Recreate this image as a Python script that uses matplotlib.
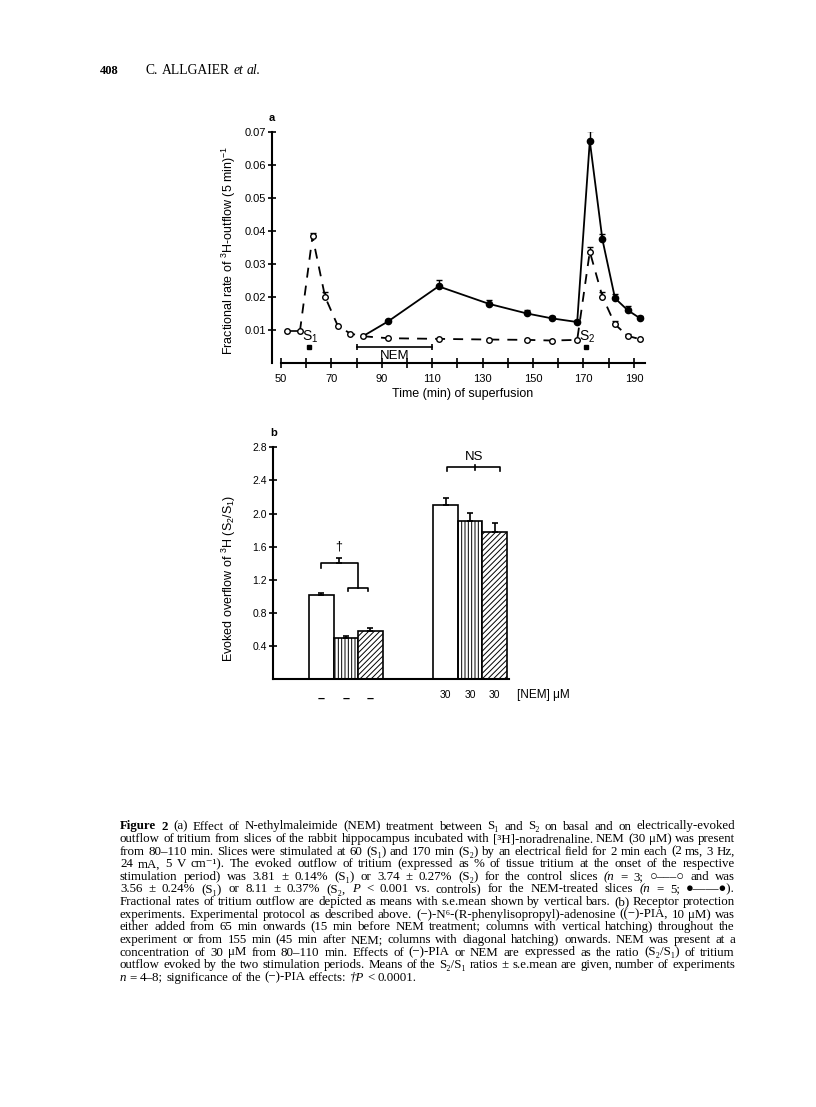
import numpy as np
import matplotlib
matplotlib.use("Agg")
import matplotlib.pyplot as plt

plt.rcParams['font.family'] = ['Liberation Sans', 'DejaVu Sans']
plt.rcParams['mathtext.default'] = 'regular'
plt.rcParams['hatch.linewidth'] = 0.7

# panel a: fractional rate of 3H outflow per 5 min
ctrl_time = [52.5, 57.5, 62.5, 67.5, 72.5, 77.5, 82.5, 92.5, 112.5, 132.5,
             147.5, 157.5, 167.5, 172.5, 177.5, 182.5, 187.5, 192.5]
ctrl_rate = [0.0096, 0.0096, 0.0383, 0.0200, 0.0113, 0.0089, 0.0081, 0.0075, 0.0073, 0.0071,
             0.0070, 0.0068, 0.0070, 0.0337, 0.0201, 0.0117, 0.0082, 0.0072]
ctrl_sem = [0, 0, 0.0010, 0.0014, 0, 0, 0, 0, 0, 0,
            0, 0, 0, 0.0015, 0.0013, 0.0011, 0.0007, 0]

nem_time = [82.5, 92.5, 112.5, 132.5, 147.5, 157.5, 167.5, 172.5, 177.5, 182.5, 187.5, 192.5]
nem_rate = [0.0081, 0.0126, 0.0232, 0.0179, 0.0150, 0.0135, 0.0124, 0.0672, 0.0374, 0.0196, 0.0160, 0.0135]
nem_sem = [0, 0.0005, 0.0018, 0.0012, 0.0010, 0.0007, 0.0005, 0.0030, 0.0017, 0.0013, 0.0013, 0.0007]

stim_time = [61, 171]
stim_names = ['$S_1$', '$S_2$']
nem_period = [80, 110]

# panel b: S2/S1 ratios
bar_labels = ['–', '–', '–', '30', '30', '30']
bar_ratio = [1.02, 0.50, 0.58, 2.10, 1.91, 1.78]
bar_sem = [0.025, 0.025, 0.033, 0.09, 0.10, 0.11]
bar_hatch = ['', '|||||', '//////', '', '|||||', '//////']

caption = [
    "*Figure *2  (a) Effect of N-ethylmaleimide (NEM) treatment between S₁ and S₂ on basal and on electrically-evoked",
    "outflow of tritium from slices of the rabbit hippocampus incubated with [³H]-noradrenaline. NEM (30 μM) was present",
    "from 80–110 min. Slices were stimulated at 60 (S₁) and 170 min (S₂) by an electrical field for 2 min each (2 ms, 3 Hz,",
    "24 mA, 5 V cm⁻¹). The evoked outflow of tritium (expressed as % of tissue tritium at the onset of the respective",
    "stimulation period) was 3.81 ± 0.14% (S₁) or 3.74 ± 0.27% (S₂) for the control slices ~(n = 3; ○–––○ and was",
    "3.56 ± 0.24% (S₁) or 8.11 ± 0.37% (S₂, ~P < 0.001 vs. controls) for the NEM-treated slices ~(n = 5; ●——●).",
    "Fractional rates of tritium outflow are depicted as means with s.e.mean shown by vertical bars. (b) Receptor protection",
    "experiments. Experimental protocol as described above. (−)-N⁶-(R-phenylisopropyl)-adenosine ((−)-PIA, 10 μM) was",
    "either added from 65 min onwards (15 min before NEM treatment; columns with vertical hatching) throughout the",
    "experiment or from 155 min (45 min after NEM; columns with diagonal hatching) onwards. NEM was present at a",
    "concentration of 30 μM from 80–110 min. Effects of (−)-PIA or NEM are expressed as the ratio (S₂/S₁) of tritium",
    "outflow evoked by the two stimulation periods. Means of the S₂/S₁ ratios ± s.e.mean are given, number of experiments",
    "~n = 4–8; significance of the (−)-PIA effects: ~†P < 0.0001.",
]

W, H = 816, 1107
fig = plt.figure(figsize=(W / 100, H / 100), dpi=100)
renderer = fig.canvas.get_renderer()
serif = ['Liberation Serif', 'DejaVu Serif']


def word_style(w):
    kw = dict(family=serif)
    if w.startswith('*'):
        w = w[1:]
        kw['weight'] = 'bold'
    elif w.startswith('~'):
        w = w[1:]
        kw['style'] = 'italic'
    return w, kw


def text_width(s, size, **kw):
    t = fig.text(0, 0, s, fontsize=size, **kw)
    w = t.get_window_extent(renderer=renderer).width
    t.remove()
    return w


def measure(line, size):
    words = [word_style(w) for w in line.split(' ') if w]
    widths = [text_width(w, size, **kw) for w, kw in words]
    space = text_width('a a', size, family=serif) - text_width('aa', size, family=serif)
    return words, widths, space


def put_line(line, x0, x1, y, size, justify=True):
    words, widths, space = measure(line, size)
    if justify and len(words) > 1:
        gap = (x1 - x0 - sum(widths)) / (len(words) - 1)
    else:
        gap = space
    x = x0
    for (w, kw), wd in zip(words, widths):
        fig.text(x / W, 1 - y / H, w, fontsize=size, va='baseline', ha='left', **kw)
        x += wd + gap


# header
fig.text(100 / W, 1 - 74 / H, '408', fontsize=9, weight='bold', family=serif, va='baseline')
put_line('C. ALLGAIER ~et ~al.', 146, 0, 74, 9.8, justify=False)

# ---- panel a ----
axa = fig.add_axes([272 / W, 1 - 363 / H, 373 / W, 231.3 / H])
axa.set_xlim(46.43, 194.4)
axa.set_ylim(0, 0.07)
for s in ['top', 'right']:
    axa.spines[s].set_visible(False)
axa.spines['left'].set_linewidth(1.5)
axa.spines['bottom'].set_linewidth(1.5)
axa.spines['bottom'].set_bounds(50, 194.4)
axa.set_xticks(np.arange(50, 191, 10))
axa.set_xticklabels([str(v) if (v - 50) % 20 == 0 else '' for v in range(50, 191, 10)])
axa.set_yticks(np.arange(0.01, 0.071, 0.01))
axa.set_yticklabels(['%.2f' % v for v in np.arange(0.01, 0.071, 0.01)])
axa.tick_params(axis='x', direction='inout', length=7, width=1.2, pad=4.5, labelsize=8)
axa.tick_params(axis='y', direction='inout', length=6, width=1.2, pad=1, labelsize=8)

axa.plot(ctrl_time[:2], ctrl_rate[:2], '-', color='k', lw=1.2)
axa.plot(ctrl_time[1:], ctrl_rate[1:], color='k', lw=1.3, ls=(0, (5.5, 4.5)))
axa.plot(nem_time, nem_rate, '-', color='k', lw=1.3)

cs = np.array(ctrl_sem)
m = cs > 0
axa.errorbar(np.array(ctrl_time)[m], np.array(ctrl_rate)[m], yerr=[np.zeros(m.sum()), cs[m]],
             fmt='none', ecolor='k', elinewidth=1, capsize=2, capthick=1)
ns = np.array(nem_sem)
m = ns > 0
axa.errorbar(np.array(nem_time)[m], np.array(nem_rate)[m], yerr=[np.zeros(m.sum()), ns[m]],
             fmt='none', ecolor='k', elinewidth=1, capsize=2, capthick=1)

axa.plot(nem_time[1:], nem_rate[1:], 'o', color='k', ms=4.5, zorder=4)
axa.plot(ctrl_time, ctrl_rate, 'o', mfc='white', mec='k', mew=1, ms=4, zorder=5)

axa.plot(stim_time, [0.0047] * len(stim_time), 's', color='k', ms=3.5)
for t, name in zip(stim_time, stim_names):
    axa.text(t + 0.6, 0.0079, name, fontsize=10, ha='center', va='center')

axa.plot(nem_period, [0.0049, 0.0049], '-', color='k', lw=1.2)
axa.plot(nem_period, [0.0049, 0.0049], '|', color='k', ms=5, mew=1.2)
axa.text(np.mean(nem_period), 0.0022, 'NEM', fontsize=9.5, ha='center', va='center')

axa.set_xlabel('Time (min) of superfusion', fontsize=9)
axa.xaxis.set_label_coords(0.51, -0.108)
axa.set_ylabel('Fractional rate of $^3$H-outflow (5 min)$^{-1}$', fontsize=9)
axa.yaxis.set_label_coords(-0.091, 0.486)
fig.text(272 / W, 1 - 118 / H, 'a', fontsize=8, weight='bold', ha='center', va='center')

# ---- panel b ----
axb = fig.add_axes([273.3 / W, 1 - 679 / H, 235.7 / W, 231.7 / H])
bar_x = [0, 1, 2, 5.05, 6.05, 7.05]
axb.set_xlim(-1.95, 7.63)
axb.set_ylim(0, 2.8)
for s in ['top', 'right']:
    axb.spines[s].set_visible(False)
axb.spines['left'].set_linewidth(1.5)
axb.spines['bottom'].set_linewidth(1.5)
axb.set_xticks([])
axb.set_yticks(np.arange(0.4, 2.81, 0.4))
axb.set_yticklabels(['%.1f' % v for v in np.arange(0.4, 2.81, 0.4)])
axb.tick_params(axis='y', direction='inout', length=6, width=1.2, pad=1.5, labelsize=7.5)

axb.bar(bar_x, bar_ratio, width=1, facecolor='white', edgecolor='k', lw=1.2,
        hatch=bar_hatch, zorder=2)
axb.errorbar(bar_x, bar_ratio, yerr=[np.zeros(len(bar_sem)), bar_sem], fmt='none',
             ecolor='k', elinewidth=1.2, capsize=2.5, capthick=1.2, zorder=3)

# significance bracket for the (-)-PIA effect
top = 1.40
low = 1.10
axb.plot([bar_x[0], bar_x[0], bar_x[1] + 0.5, bar_x[1] + 0.5],
         [top - 0.06, top, top, low], color='k', lw=1.2)
axb.plot([bar_x[1] + 0.09, bar_x[1] + 0.09, bar_x[2] - 0.09, bar_x[2] - 0.09],
         [low - 0.04, low, low, low - 0.04], color='k', lw=1.2)
axb.errorbar([0.71], [top], yerr=[[0], [0.06]], fmt='none', ecolor='k', elinewidth=1.2,
             capsize=2.5, capthick=1.2)
axb.text(0.69, 1.60, '†', fontsize=9, ha='center', va='center')

ns_y = 2.566
axb.plot([bar_x[3] + 0.07, bar_x[3] + 0.07, bar_x[5] + 0.23, bar_x[5] + 0.23],
         [ns_y - 0.05, ns_y, ns_y, ns_y - 0.05], color='k', lw=1.2)
axb.plot([6.24, 6.24], [ns_y - 0.04, ns_y + 0.02], color='k', lw=1.2)
axb.text(6.2, 2.68, 'NS', fontsize=9.5, ha='center', va='center')

for x, lab in zip(bar_x, bar_labels):
    if lab == '–':
        axb.text(x, -0.24, lab, fontsize=9, weight='bold', ha='center', va='center')
    else:
        axb.text(x, -0.19, lab, fontsize=7.5, ha='center', va='center')
axb.text(7.96, -0.19, '[NEM] μM', fontsize=8.5, ha='left', va='center')

axb.set_ylabel('Evoked overflow of $^3$H $(S_2/S_1)$', fontsize=9)
axb.yaxis.set_label_coords(-0.1485, 0.436)
fig.text(273.3 / W, 1 - 433.3 / H, 'b', fontsize=8, weight='bold', ha='center', va='center')

# ---- caption: pick a size so the justified lines need little stretching ----
base = 8.3
natural = []
for line in caption[:-1]:
    words, widths, space = measure(line, base)
    natural.append(sum(widths) + space * (len(words) - 1))
cap_size = min(base * 612 / max(natural), 10.5)
for i, line in enumerate(caption):
    put_line(line, 120, 735, 829.5 + i * 12.6, cap_size, justify=(i < len(caption) - 1))

fig.savefig('out.png', dpi=100)
